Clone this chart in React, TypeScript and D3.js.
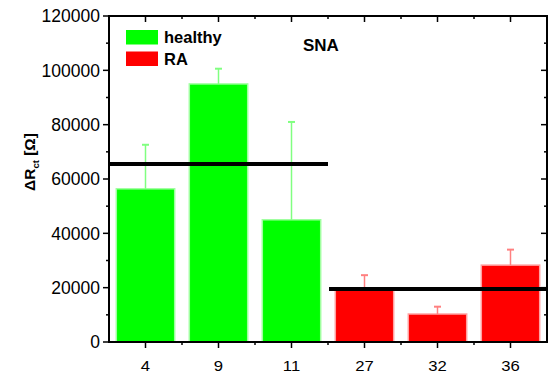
import React from "react";
import * as d3 from "d3";

const categories = ["4", "9", "11", "27", "32", "36"];
const groups = ["healthy", "healthy", "healthy", "RA", "RA", "RA"];
const values = [56400, 95000, 45000, 19500, 10300, 28300];
const upperErrors = [16200, 5600, 36000, 5100, 2700, 5700];
const meanGroups = ["healthy", "RA"];
const meanValues = [65500, 19500];
const yTicks = [0, 20000, 40000, 60000, 80000, 100000, 120000];
const yMinorTicks = [10000, 30000, 50000, 70000, 90000, 110000];
const legendItems = ["healthy", "RA"];

const W = 555;
const H = 375;
const X0 = 109;
const X1 = 547;
const Y0 = 342;
const Y1 = 16;

const fillColor: Record<string, string> = { healthy: "#00ff00", RA: "#ff0000" };
const edgeColor: Record<string, string> = { healthy: "#a0ffa0", RA: "#ffa0a0" };
const errColor: Record<string, string> = { healthy: "#80ff80", RA: "#ff8080" };

const FONT = "'Liberation Sans', Arial, Helvetica, sans-serif";

export default function App() {
  const x = d3
    .scaleBand<string>()
    .domain(categories)
    .range([X0, X1])
    .paddingInner(0.2)
    .paddingOuter(0.1);
  const y = d3.scaleLinear().domain([0, 120000]).range([Y0, Y1]);
  const step = x.step();
  const bw = x.bandwidth();
  const boundaries = d3.range(1, categories.length).map((i) => X0 + i * step);

  const meanExtents = meanGroups.map((g) => {
    const idx = groups.map((gg, i) => (gg === g ? i : -1)).filter((i) => i >= 0);
    const first = idx[0];
    const last = idx[idx.length - 1];
    return [X0 + first * step, X0 + (last + 1) * step];
  });

  return (
    <svg
      width={W}
      height={H}
      style={{ position: "absolute", left: 0, top: 0, background: "#fff" }}
      fontFamily={FONT}
    >
      <rect x={0} y={0} width={W} height={H} fill="#fff" />
      {categories.map((c, i) => (
        <rect
          key={"bar" + c}
          x={x(c)!}
          y={y(values[i])}
          width={bw}
          height={Y0 - y(values[i])}
          fill={fillColor[groups[i]]}
          stroke={edgeColor[groups[i]]}
          strokeWidth={1.5}
        />
      ))}
      {categories.map((c, i) => {
        const cx = x(c)! + bw / 2;
        const yt = y(values[i] + upperErrors[i]);
        return (
          <g key={"err" + c} stroke={errColor[groups[i]]} strokeWidth={1.5}>
            <line x1={cx} x2={cx} y1={y(values[i])} y2={yt} />
            <line x1={cx - 3.5} x2={cx + 3.5} y1={yt} y2={yt} strokeWidth={2} />
          </g>
        );
      })}
      {meanGroups.map((g, i) => (
        <line
          key={"mean" + g}
          x1={meanExtents[i][0] + (i === 0 ? 0 : 1)}
          x2={meanExtents[i][1]}
          y1={y(meanValues[i])}
          y2={y(meanValues[i])}
          stroke="#000"
          strokeWidth={4}
        />
      ))}
      <g stroke="#000" strokeWidth={2} fill="none">
        <line x1={X0} x2={X0} y1={Y1 - 1} y2={Y0 + 1} />
        <line x1={X1} x2={X1} y1={Y1 - 1} y2={Y0 + 1} />
        <line x1={X0 - 1} x2={X1 + 1} y1={Y0} y2={Y0} />
        <line x1={X0 - 1} x2={X1 + 1} y1={Y1} y2={Y1} />
      </g>
      <g stroke="#000" strokeWidth={1.5}>
        {yTicks.map((t) => (
          <g key={"yt" + t}>
            <line x1={X0 - 6} x2={X0} y1={y(t)} y2={y(t)} />
            <line x1={X1} x2={X1 - 6} y1={y(t)} y2={y(t)} />
          </g>
        ))}
        {yMinorTicks.map((t) => (
          <g key={"ym" + t}>
            <line x1={X0 - 3} x2={X0} y1={y(t)} y2={y(t)} />
            <line x1={X1} x2={X1 - 3} y1={y(t)} y2={y(t)} />
          </g>
        ))}
        {categories.map((c) => {
          const cx = x(c)! + bw / 2;
          return (
            <g key={"xt" + c}>
              <line x1={cx} x2={cx} y1={Y0} y2={Y0 + 6} />
              <line x1={cx} x2={cx} y1={Y1} y2={Y1 + 6} />
            </g>
          );
        })}
        {boundaries.map((b, i) => (
          <g key={"xm" + i}>
            <line x1={b} x2={b} y1={Y0} y2={Y0 + 3} />
            <line x1={b} x2={b} y1={Y1} y2={Y1 + 3} />
          </g>
        ))}
      </g>
      {yTicks.map((t) => (
        <text
          key={"yl" + t}
          x={X0 - 9}
          y={y(t)}
          dy="0.36em"
          textAnchor="end"
          fontSize={17.5}
          fill="#000"
        >
          {t}
        </text>
      ))}
      {categories.map((c) => (
        <text
          key={"xl" + c}
          transform={`translate(${x(c)! + bw / 2},371) scale(1.15,1)`}
          textAnchor="middle"
          fontSize={14.5}
          fill="#000"
        >
          {c}
        </text>
      ))}
      <text
        transform={`translate(35,162) rotate(-90)`}
        textAnchor="middle"
        fontSize={15.5}
        fontWeight="bold"
        fill="#000"
      >
        ΔR
        <tspan fontSize={9.5} dy={4}>ct</tspan>
        <tspan dy={-4}> [Ω]</tspan>
      </text>
      {legendItems.map((g, i) => (
        <g key={"lg" + g}>
          <rect x={126} y={30 + i * 21.5} width={32} height={14.5} fill={fillColor[g]} />
          <text x={164} y={43 + i * 21.5} fontSize={16.5} fontWeight="bold" fill="#000">
            {g}
          </text>
        </g>
      ))}
      <text x={303} y={50.5} fontSize={17} fontWeight="bold" fill="#000">
        SNA
      </text>
    </svg>
  );
}
